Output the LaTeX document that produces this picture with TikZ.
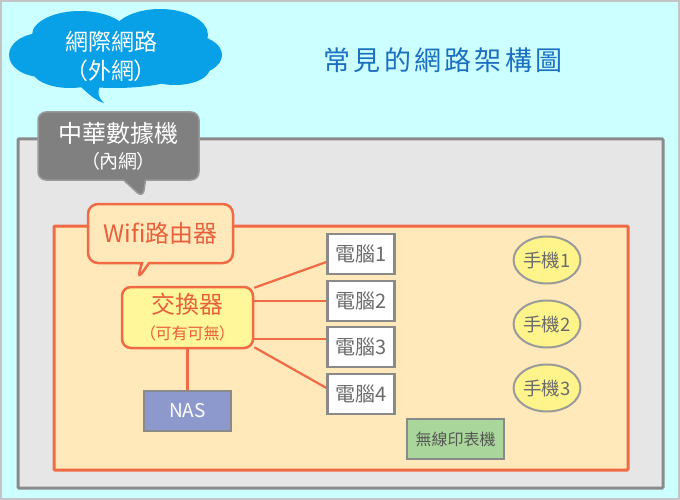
\documentclass[tikz,border=0pt]{standalone}
\usepackage{fontspec}
\setmainfont{Noto Sans CJK TC}[RawFeature=+palt]
\usetikzlibrary{shapes.callouts,shapes.geometric}
\newcommand\fsz[1]{\fontsize{#1}{#1}\selectfont}
\definecolor{bgcyan}{HTML}{CCFFFF}
\definecolor{framegray}{HTML}{C4C4C4}
\definecolor{areafill}{HTML}{E6E6E6}
\definecolor{arealine}{HTML}{8A8A8A}
\definecolor{orfill}{HTML}{FFE8B9}
\definecolor{orline}{HTML}{EF6A45}
\definecolor{ortext}{HTML}{E8603C}
\definecolor{cloudblue}{HTML}{08A0E6}
\definecolor{callgray}{HTML}{808080}
\definecolor{callline}{HTML}{9A9A9A}
\definecolor{titleblue}{HTML}{1A6FC0}
\definecolor{swyellow}{HTML}{FFF799}
\definecolor{pctext}{HTML}{6B6B6B}
\definecolor{phyellow}{HTML}{FFF48C}
\definecolor{prgreen}{HTML}{A9D69A}
\definecolor{nasblue}{HTML}{8D99CC}
\tikzset{
  pcbox/.style={draw=arealine, fill=white, line width=2.5, minimum width=67, minimum height=40, inner sep=0, text=pctext, font=\fsz{20}},
  phone/.style={ellipse, draw=callline, fill=phyellow, line width=2, minimum width=64, minimum height=47, inner sep=0, text=pctext, font=\fsz{18.5}},
  link/.style={orline, line width=2.2},
}
\begin{document}
\begin{tikzpicture}[x=1pt,y=-1pt]
\useasboundingbox (0,0) rectangle (680,500);
\fill[bgcyan] (0,0) rectangle (680,500);
\draw[framegray, line width=2] (1,1) rectangle (679,499);
\draw[arealine, fill=areafill, line width=3, rounded corners=1] (18,139) rectangle (663,488);
\draw[orline, fill=orfill, line width=3, rounded corners=1] (54,226) rectangle (628,470);

% cloud
\fill[cloudblue] (78,84) .. controls (90,96) and (97,101) .. (104,103) .. controls (98,97) and (97,93) .. (100,86) -- cycle;
\fill[cloudblue] (80,35) ellipse [x radius=48, y radius=24];
\fill[cloudblue] (160,35) ellipse [x radius=48, y radius=26];
\fill[cloudblue] (42,55) ellipse [x radius=33, y radius=22];
\fill[cloudblue] (190,55) ellipse [x radius=32, y radius=20];
\fill[cloudblue] (115,62) ellipse [x radius=85, y radius=26];
\fill[cloudblue] (175,68) ellipse [x radius=35, y radius=17];
\fill[cloudblue] (70,70) ellipse [x radius=38, y radius=18];
\node[inner sep=0, text=white, align=center, font=\fsz{23}] (net) at (111,56) {網際網路\\[6pt]（外網）};

% title
\node[text=titleblue, font=\fsz{27}\addfontfeatures{LetterSpace=12}] (title) at (443,60) {常見的網路架構圖};

% modem callout
\coordinate (tipM) at (143,198);
\node[rectangle callout, callout absolute pointer={(tipM)}, callout pointer width=22, rounded corners=8, fill=callgray, draw=callline, line width=1.5, minimum width=161, minimum height=68, inner sep=0, text=white, align=center, font=\fsz{24}] (modem) at (118.5,146) {中華數據機\\[2pt]{\fsz{19}（內網）}};

% wifi callout
\coordinate (tipW) at (137,280);
\node[rectangle callout, callout absolute pointer={(tipW)}, rounded corners=10, fill=orfill, draw=orline, line width=2.5, minimum width=145, minimum height=59, inner sep=0, text=ortext, font=\fsz{24}] (wifi) at (160.5,233.5) {Wifi路由器};

% switch
\node[draw=orline, fill=swyellow, line width=2.5, rounded corners=9, minimum width=131, minimum height=61, inner sep=0, align=center, text=ortext, font=\fsz{24}] (sw) at (187.5,317.5) {交換器\\[2pt]{\fsz{16}（可有可無）}};

% PCs
\node[pcbox] (pc1) at (361,254) {電腦1};
\node[pcbox] (pc2) at (361,301) {電腦2};
\node[pcbox] (pc3) at (361,347) {電腦3};
\node[pcbox] (pc4) at (361,394) {電腦4};

% phones
\node[phone] (ph1) at (547,260) {手機1};
\node[phone] (ph2) at (547,324) {手機2};
\node[phone] (ph3) at (547,388) {手機3};

% printer and NAS
\node[draw=arealine, fill=prgreen, line width=2.5, minimum width=97, minimum height=40, inner sep=0, text=pctext!80!black, font=\fsz{16}] (prn) at (455.5,439) {無線印表機};
\node[draw=arealine, fill=nasblue, line width=2.5, minimum width=87, minimum height=40, inner sep=0, text=white, font=\fsz{19}] (nas) at (187.5,411) {NAS};

% links
\draw[link] (sw.24) -- (pc1.193);
\draw[link] (sw.east |- pc2.west) -- (pc2.west);
\draw[link] (pc3.167 -| sw.east) -- (pc3.167);
\draw[link] (sw.-24) -- (pc4.170);
\draw[link] (sw.south) -- (nas.north);
\end{tikzpicture}
\end{document}
